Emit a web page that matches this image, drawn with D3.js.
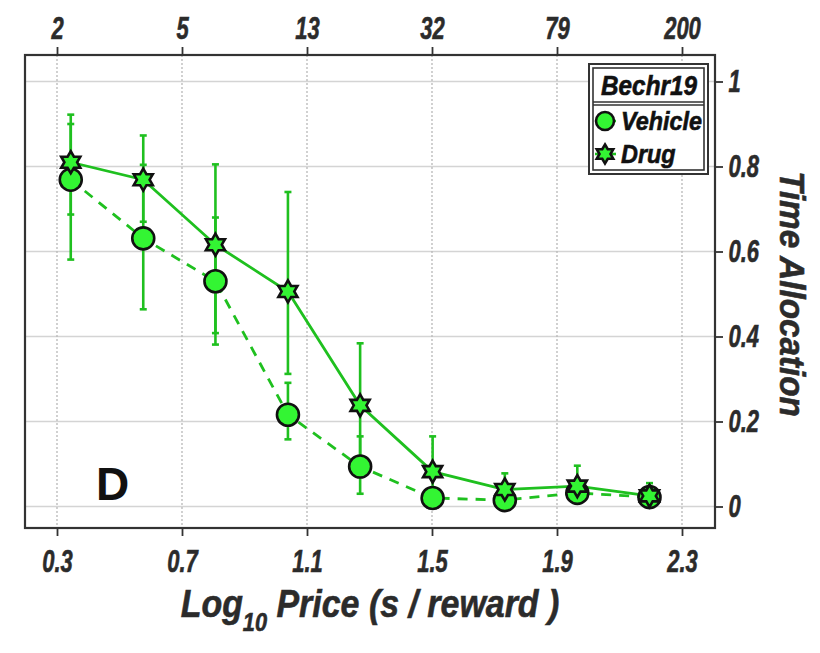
<!DOCTYPE html>
<html>
<head>
<meta charset="utf-8">
<script src="https://cdn.jsdelivr.net/npm/d3@7"></script>
<style>
  html, body { margin: 0; padding: 0; background: #fff; }
  svg { display: block; }
  .lab { font-family: "Liberation Sans", Arial, Helvetica, sans-serif; font-weight: bold; font-style: italic; fill: #2b2b2b; stroke: #2b2b2b; stroke-width: 0.6px; }
</style>
</head>
<body>
<svg id="chart" width="820" height="653"></svg>
<script>
// Log10 price of each schedule step (s / reward)
const logPrice = [0.344, 0.576, 0.807, 1.039, 1.270, 1.502, 1.733, 1.965, 2.196];

// Time allocation, mean with lower / upper error limits
const vehicle   = [0.769, 0.631, 0.530, 0.216, 0.094, 0.020, 0.015, 0.032, 0.022];
const vehicleLo = [0.581, 0.464, 0.381, 0.158, 0.030, 0.008, 0.004, 0.018, 0.010];
const vehicleHi = [0.900, 0.804, 0.680, 0.291, 0.165, 0.034, 0.028, 0.048, 0.034];
const drug      = [0.810, 0.769, 0.616, 0.506, 0.238, 0.082, 0.040, 0.048, 0.025];
const drugLo    = [0.687, 0.670, 0.408, 0.312, 0.092, 0.010, 0.008, 0.010, 0.005];
const drugHi    = [0.922, 0.873, 0.805, 0.740, 0.384, 0.165, 0.078, 0.096, 0.055];

// Axis ticks
const xTicks = [0.3, 0.7, 1.1, 1.5, 1.9, 2.3];
const xTickLabels = ["0.3", "0.7", "1.1", "1.5", "1.9", "2.3"];
const priceLabels = ["2", "5", "13", "32", "79", "200"];
const yTicks = [0, 0.2, 0.4, 0.6, 0.8, 1];
const yTickLabels = ["0", "0.2", "0.4", "0.6", "0.8", "1"];

const svg = d3.select("#chart");
const frame = { left: 25, right: 715, top: 55, bottom: 528 };

const x = d3.scaleLinear().domain([0.3, 2.3]).range([57, 682]);
const y = d3.scaleLinear().domain([0, 1]).range([506.5, 81.5]);

const lineGreen = "#1fc01f";
const fillGreen = "#33f533";
const dark = "#333";

// Grid
svg.append("g").selectAll("line").data(yTicks).join("line")
  .attr("x1", frame.left).attr("x2", frame.right)
  .attr("y1", d => y(d)).attr("y2", d => y(d))
  .attr("stroke", "#d4d4d4").attr("stroke-width", 1.6);
svg.append("g").selectAll("line").data(xTicks).join("line")
  .attr("x1", d => x(d)).attr("x2", d => x(d))
  .attr("y1", frame.top).attr("y2", frame.bottom)
  .attr("stroke", "#b8b8b8").attr("stroke-width", 1.3)
  .attr("stroke-dasharray", "2,2");

// Axes: bottom and top share tick positions, right carries time allocation
const tickScale = 0.71;
function styleAxis(g) {
  g.select(".domain").remove();
  g.selectAll(".tick line").attr("stroke", dark).attr("stroke-width", 1.8);
  g.selectAll(".tick text").attr("class", "lab").attr("font-size", 31)
    .attr("font-family", null).attr("fill", null)
    .attr("transform", `scale(${tickScale},1)`);
}
svg.append("g").attr("transform", `translate(0,${frame.bottom})`)
  .call(d3.axisBottom(x).tickValues(xTicks).tickSize(8).tickPadding(14)
    .tickFormat((d, i) => xTickLabels[i]))
  .call(styleAxis);
svg.append("g").attr("transform", `translate(0,${frame.top})`)
  .call(d3.axisTop(x).tickValues(xTicks).tickSize(8).tickPadding(8)
    .tickFormat((d, i) => priceLabels[i]))
  .call(styleAxis);
svg.append("g").attr("transform", `translate(${frame.right},0)`)
  .call(d3.axisRight(y).tickValues(yTicks).tickSize(8).tickPadding(11)
    .tickFormat((d, i) => yTickLabels[i]))
  .call(styleAxis);

// Frame
svg.append("rect")
  .attr("x", frame.left).attr("y", frame.top)
  .attr("width", frame.right - frame.left).attr("height", frame.bottom - frame.top)
  .attr("fill", "none").attr("stroke", dark).attr("stroke-width", 2.2);

// Panel letter
svg.append("text").attr("x", 96).attr("y", 500)
  .attr("font-family", "'Liberation Sans', Arial, sans-serif")
  .attr("font-weight", "bold").attr("font-size", 46).attr("fill", "#111")
  .text("D");

const series = [
  { name: "Vehicle", m: vehicle, lo: vehicleLo, hi: vehicleHi, dash: "10,8", shape: "circle" },
  { name: "Drug", m: drug, lo: drugLo, hi: drugHi, dash: null, shape: "star" }
];

// Error bars
series.forEach(s => {
  const g = svg.append("g").attr("stroke", lineGreen).attr("stroke-width", 2.6);
  logPrice.forEach((p, i) => {
    g.append("line").attr("x1", x(p)).attr("x2", x(p))
      .attr("y1", y(s.lo[i])).attr("y2", y(s.hi[i]));
    [s.lo[i], s.hi[i]].forEach(v => {
      g.append("line").attr("x1", x(p) - 3.5).attr("x2", x(p) + 3.5)
        .attr("y1", y(v)).attr("y2", y(v));
    });
  });
});

// Connecting lines
const line = d3.line().x(d => x(d[0])).y(d => y(d[1]));
series.forEach(s => {
  svg.append("path")
    .attr("d", line(logPrice.map((p, i) => [p, s.m[i]])))
    .attr("fill", "none").attr("stroke", lineGreen).attr("stroke-width", 2.8)
    .attr("stroke-dasharray", s.dash);
});

// Six-pointed star marker path centred on the origin
function hexagram(R) {
  const r = R / Math.sqrt(3);
  const pts = d3.range(12).map(k => {
    const a = -Math.PI / 2 + k * Math.PI / 6;
    const rad = k % 2 === 0 ? R : r;
    return [rad * Math.cos(a), rad * Math.sin(a)];
  });
  return "M" + pts.map(p => p.join(",")).join("L") + "Z";
}

function drawMarker(g, shape, cx, cy, size) {
  if (shape === "circle") {
    g.append("circle").attr("cx", cx).attr("cy", cy).attr("r", size)
      .attr("fill", fillGreen).attr("stroke", "#111").attr("stroke-width", 2.6);
  } else {
    g.append("path").attr("d", hexagram(size))
      .attr("transform", `translate(${cx},${cy})`)
      .attr("fill", fillGreen).attr("stroke", "#111").attr("stroke-width", 2.6)
      .attr("stroke-linejoin", "miter");
  }
}

series.forEach(s => {
  const g = svg.append("g");
  logPrice.forEach((p, i) => drawMarker(g, s.shape, x(p), y(s.m[i]), 11));
});

// Axis titles
svg.append("text").attr("class", "lab")
  .attr("transform", "translate(780,294) rotate(90) scale(0.95,1)")
  .attr("text-anchor", "middle").attr("font-size", 35)
  .text("Time Allocation");

const xt = svg.append("text").attr("class", "lab")
  .attr("transform", "translate(370,617) scale(0.87,1)")
  .attr("text-anchor", "middle").attr("font-size", 39);
xt.append("tspan").text("Log");
xt.append("tspan").attr("font-size", 25).attr("dy", 14).text("10");
xt.append("tspan").attr("dy", -14).text(" Price (s / reward )");

// Legend
const lg = svg.append("g");
lg.append("rect").attr("x", 589).attr("y", 64).attr("width", 119).attr("height", 110)
  .attr("fill", "#fff").attr("stroke", dark).attr("stroke-width", 2);
lg.append("rect").attr("x", 593).attr("y", 68).attr("width", 111).attr("height", 102)
  .attr("fill", "none").attr("stroke", dark).attr("stroke-width", 1.6);
lg.append("line").attr("x1", 593).attr("x2", 704).attr("y1", 102).attr("y2", 102)
  .attr("stroke", dark).attr("stroke-width", 1.6);
lg.append("line").attr("x1", 593).attr("x2", 704).attr("y1", 105).attr("y2", 105)
  .attr("stroke", dark).attr("stroke-width", 1.6);
lg.append("text").attr("class", "lab")
  .attr("transform", "translate(649,95) scale(0.9,1)")
  .attr("text-anchor", "middle").attr("font-size", 27)
  .style("fill", "#111").style("stroke", "#111").text("Bechr19");
series.forEach((s, i) => {
  const cy = 121 + i * 33;
  lg.append("line").attr("x1", 595).attr("x2", 616).attr("y1", cy).attr("y2", cy)
    .attr("stroke", lineGreen).attr("stroke-width", 2.6);
  drawMarker(lg, s.shape, 605, cy, s.shape === "circle" ? 9 : 9.5);
  lg.append("text").attr("class", "lab")
    .attr("transform", `translate(621,${cy + 9}) scale(0.9,1)`)
    .attr("font-size", 26).style("fill", "#111").style("stroke", "#111").text(s.name);
});
</script>
</body>
</html>
